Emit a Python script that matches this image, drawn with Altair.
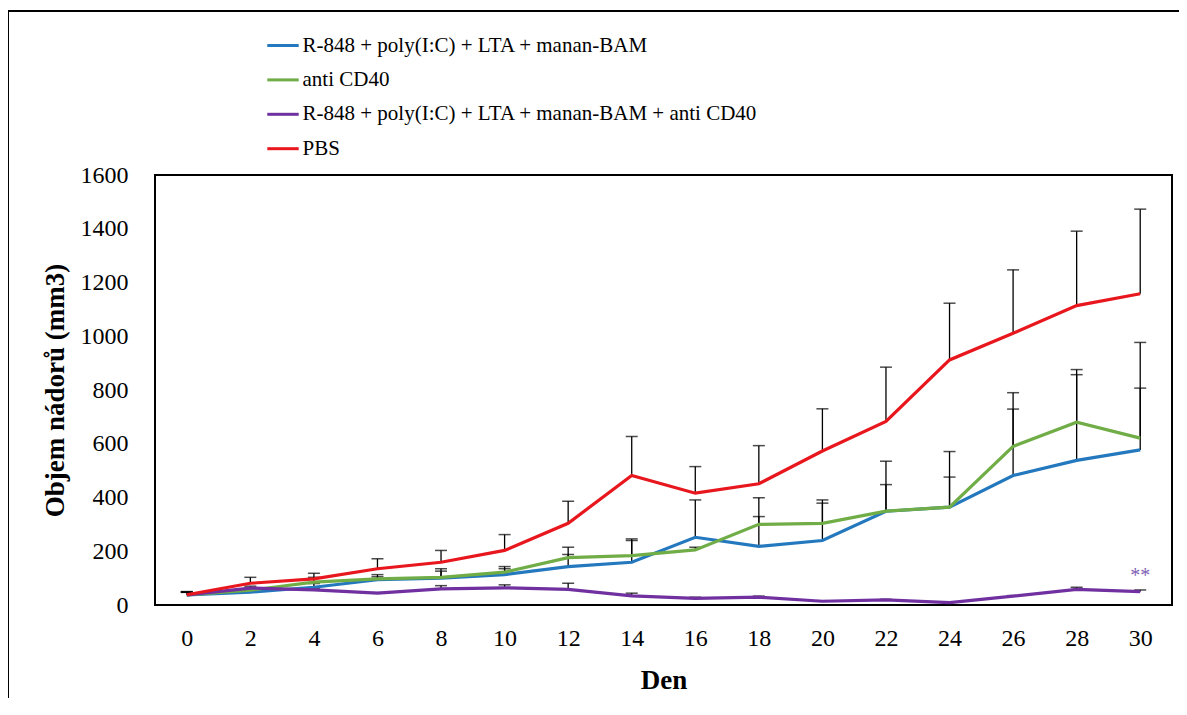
import altair as alt
import pandas as pd

days = [0, 2, 4, 6, 8, 10, 12, 14, 16, 18, 20, 22, 24, 26, 28, 30]
series_names = [
    "R-848 + poly(I:C) + LTA + manan-BAM",
    "anti CD40",
    "R-848 + poly(I:C) + LTA + manan-BAM + anti CD40",
    "PBS",
]
colors = ["#2478BE", "#70AD47", "#7030A0", "#E8161D"]

blue = [38, 48, 66, 94, 100, 113, 143, 159, 252, 218, 240, 349, 364, 482, 538, 577]
blue_up = [48, 60, 80, 105, 126, 135, 188, 240, 391, 329, 379, 448, 476, 729, 857, 807]
green = [38, 55, 85, 97, 103, 122, 176, 184, 205, 300, 304, 349, 364, 590, 680, 621]
green_up = [48, 62, 103, 113, 135, 143, 215, 246, 215, 399, 391, 535, 571, 790, 876, 977]
purple = [38, 63, 56, 44, 60, 64, 58, 34, 25, 29, 14, 19, 9, 33, 58, 50]
purple_up = [47, 70, 62, 46, 72, 75, 81, 44, 29, 33, 16, 21, 11, 35, 66, 56]
red = [38, 81, 97, 135, 159, 203, 304, 482, 416, 451, 573, 683, 912, 1011, 1114, 1158]
red_up = [50, 103, 118, 172, 203, 262, 386, 627, 515, 593, 730, 885, 1123, 1247, 1391, 1473]

annot_day = [30]
annot_value = [50]
annot_text = ["**"]

rows = []
for name, vals, ups in zip(series_names, [blue, green, purple, red],
                           [blue_up, green_up, purple_up, red_up]):
    for d, v, u in zip(days, vals, ups):
        rows.append({"series": name, "day": d, "value": v, "upper": u})
df = pd.DataFrame(rows)
annot_df = pd.DataFrame({"day": annot_day, "value": annot_value, "text": annot_text})
frame_df = pd.DataFrame({"k": [1]})

FONT = "Liberation Serif"
xscale = alt.Scale(domain=[-1, 31], nice=False, zero=False)
yscale = alt.Scale(domain=[0, 1600], nice=False)
xaxis = alt.Axis(values=days, title="Den", labelPadding=21, titleY=83,
                 titleBaseline="alphabetic", format="d")
yaxis = alt.Axis(values=list(range(0, 1601, 200)), title="Objem nádorů (mm3)",
                 labelPadding=27, titleX=-100, titleY=215, titleAngle=270,
                 titleBaseline="middle", titleAlign="center", format="d")

X = alt.X("day:Q", scale=xscale, axis=xaxis)
Yv = alt.Y("value:Q", scale=yscale, axis=yaxis)
Yu = alt.Y("upper:Q", scale=yscale, axis=yaxis)

color_enc = alt.Color(
    "series:N",
    scale=alt.Scale(domain=series_names, range=colors),
    legend=alt.Legend(
        orient="none", legendX=110.5, legendY=-147, title=None,
        symbolType="stroke", symbolSize=986, symbolStrokeWidth=3,
        labelFont=FONT, labelFontSize=21, labelColor="black",
        labelLimit=900, labelOffset=2, rowPadding=6.4, padding=0,
        direction="vertical",
    ),
)

base = alt.Chart(df)
err = base.mark_rule(color="black", strokeWidth=1.3).encode(x=X, y=Yv, y2="upper:Q")
caps = base.mark_tick(color="black", orient="horizontal", size=12, thickness=1.5).encode(x=X, y=Yu)

line_layers = []
for n in series_names:
    line_layers.append(
        base.transform_filter(alt.datum.series == n)
        .mark_line(strokeWidth=3.2)
        .encode(x=X, y=Yv, color=color_enc)
    )

annot = alt.Chart(annot_df).mark_text(
    font=FONT, fontSize=20, color="#7F62B5", baseline="alphabetic", dy=-10
).encode(x=X, y=Yv, text="text:N")

frame_top = alt.Chart(frame_df).mark_rule(color="black", strokeWidth=2).encode(
    x=alt.value(-147), x2=alt.value(1024), y=alt.value(-164), y2=alt.value(-164))
frame_left = alt.Chart(frame_df).mark_rule(color="black", strokeWidth=2).encode(
    x=alt.value(-147), x2=alt.value(-147), y=alt.value(-165), y2=alt.value(523))

chart = alt.layer(frame_top, frame_left, err, caps, *line_layers, annot).properties(
    width=1017, height=430,
    autosize=alt.AutoSizeParams(type="none"),
    padding={"left": 147, "top": 167, "right": 7, "bottom": 93},
    background="white",
).configure_view(
    stroke="black", strokeWidth=2
).configure_axis(
    labelFont=FONT, labelFontSize=24, labelColor="black",
    titleFont=FONT, titleFontSize=27, titleFontWeight="bold", titleColor="black",
    domain=False, ticks=False, tickSize=0, grid=False,
).configure_legend(
    labelFont=FONT, labelFontSize=21, labelColor="black"
)

chart.save("out.html", embed_options={"renderer": "svg", "actions": False})
